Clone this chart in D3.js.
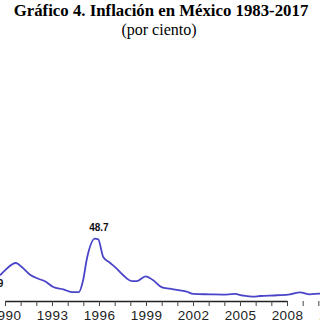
<!DOCTYPE html>
<html>
<head>
<meta charset="utf-8">
<script src="https://cdn.jsdelivr.net/npm/d3@7"></script>
<style>
  body { margin: 0; background: #fff; }
  svg { display: block; }
</style>
</head>
<body>
<svg width="320" height="320"></svg>
<script>
// fechas (año decimal) y tasa de inflación anual
let fechas = [1989.68, 1990.0, 1990.7, 1991.07, 1991.6, 1992.13, 1992.55, 1993.08, 1993.72,
  1994.26, 1994.72, 1994.96, 1995.25, 1995.74, 1995.95, 1996.27, 1996.7, 1997.13, 1997.55,
  1998.09, 1998.4, 1998.98, 1999.46, 1999.99, 2000.53, 2000.74, 2001.6, 2002.02, 2003.08,
  2003.9, 2004.66, 2005.17, 2005.83, 2006.27, 2007.36, 2008.19, 2008.83, 2009.46, 2010.1, 2010.6];
let inflacion = [20.1, 24.0, 29.7, 26.6, 20.6, 17.4, 15.4, 10.9, 9.1,
  7.0, 7.0, 14.9, 34.4, 48.7, 48.2, 34.4, 29.9, 25.3, 20.1,
  15.6, 15.6, 19.3, 16.2, 10.9, 9.6, 9.1, 7.3, 5.5, 5.2,
  5.0, 5.5, 4.3, 3.4, 3.9, 4.5, 5.2, 6.8, 5.2, 5.8, 4.5];

let anios = d3.range(1983, 2018);
let aniosEtiqueta = d3.range(1984, 2018, 3);

// etiquetas de valores destacados
let notas = [
  { fecha: 1995.74, valor: 48.7, texto: "48.7" },
  { fecha: 1989.9, valor: 20.0, texto: "19.9" }
];

let svg = d3.select('svg');

let x = d3.scaleLinear().domain([1990, 2008]).range([5, 287]);
let y = d3.scaleLinear().domain([0, 48.7]).range([301, 238.7]);

svg.append('text')
  .attr('x', 161).attr('y', 16)
  .attr('text-anchor', 'middle')
  .style('font-family', '"Liberation Serif", "Times New Roman", serif')
  .style('font-weight', 'bold')
  .style('font-size', '16.8px')
  .text('Gráfico 4. Inflación en México 1983-2017');

svg.append('text')
  .attr('x', 159).attr('y', 35)
  .attr('text-anchor', 'middle')
  .style('font-family', '"Liberation Serif", "Times New Roman", serif')
  .style('font-size', '16px')
  .text('(por ciento)');

let eje = svg.append('g')
  .attr('transform', 'translate(0,' + y(0) + ')')
  .call(d3.axisBottom(x)
    .tickValues(anios)
    .tickSize(5)
    .tickSizeOuter(0)
    .tickFormat(d => aniosEtiqueta.includes(d) ? d : ''));

eje.select('.domain').attr('stroke', '#222').attr('stroke-width', 1.5);
eje.selectAll('.tick line').attr('stroke', '#444');
eje.selectAll('.tick text')
  .attr('y', 9)
  .style('font-family', '"Liberation Sans", Arial, sans-serif')
  .style('font-size', '13.5px')
  .style('letter-spacing', '0.4px')
  .attr('fill', '#222');

let linea = d3.line()
  .x((d, i) => x(fechas[i]))
  .y(d => y(d))
  .curve(d3.curveMonotoneX);

svg.append('path')
  .datum(inflacion)
  .attr('fill', 'none')
  .attr('stroke', '#4a44c8')
  .attr('stroke-width', 1.8)
  .attr('d', linea);

svg.append('g')
  .selectAll('text')
  .data(notas)
  .enter()
  .append('text')
  .attr('x', d => d.texto == '48.7' ? x(d.fecha) + 4 : x(d.fecha))
  .attr('y', d => d.texto == '48.7' ? y(d.valor) - 8 : y(d.valor) + 12)
  .attr('text-anchor', d => d.texto == '48.7' ? 'middle' : 'end')
  .style('font-family', '"Liberation Sans", Arial, sans-serif')
  .style('font-weight', 'bold')
  .style('font-size', '10px')
  .attr('fill', '#111')
  .text(d => d.texto);
</script>
</body>
</html>
